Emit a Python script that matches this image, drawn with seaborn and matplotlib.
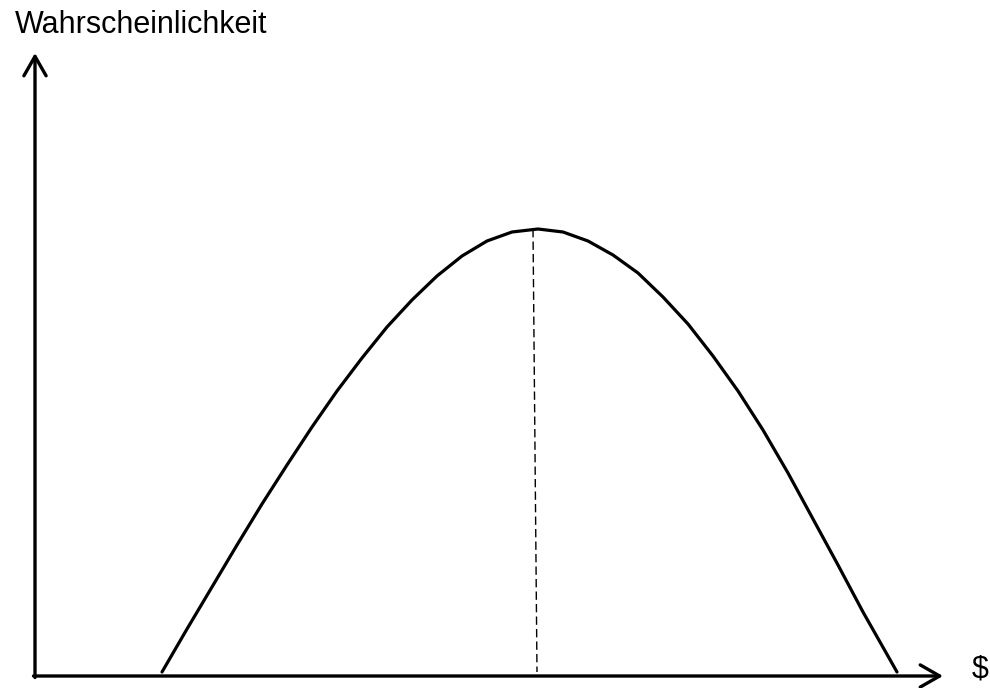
import numpy as np
import pandas as pd
import matplotlib
matplotlib.use("Agg")
import matplotlib.pyplot as plt
import seaborn as sns

# Curve (arbitrary units, origin at the axes corner)
betrag = [127, 152, 177, 202, 227, 252, 277, 302, 327, 352, 377, 402, 427, 452, 477,
          503,
          528, 553, 578, 603, 628, 653, 678, 703, 728, 753, 778, 803, 828, 862]
wahrscheinlichkeit = [4, 47, 89, 131, 172, 211, 249, 285, 318, 349, 376, 400, 420, 435, 444,
                      447,
                      444, 435, 421, 403, 379, 352, 320, 285, 246, 203, 157, 111, 64, 4]

# dashed marker line under the peak
peak_x = [498, 502]
peak_y = [447, 4]

# axis extents and labels
x_axis_end = 908
y_axis_end = 623
x_label = "$"
y_label = "Wahrscheinlichkeit"

sns.set_theme(style="white")
plt.rcParams["font.family"] = ["Liberation Sans", "DejaVu Sans"]

fig = plt.figure(figsize=(9.9, 6.88), dpi=100)
ax = fig.add_axes([0, 0, 1, 1])

df = pd.DataFrame({"x": betrag, "y": wahrscheinlichkeit})
sns.lineplot(data=df, x="x", y="y", ax=ax, color="black", linewidth=2.3,
             sort=False, estimator=None)
ax.plot(peak_x, peak_y, color="black", linewidth=1.0, linestyle=(0, (6, 3)))

arrow = dict(arrowstyle="->, head_length=0.7, head_width=0.4", color="black",
             lw=2.4, mutation_scale=20, shrinkA=0, shrinkB=0)
ax.annotate("", xy=(0, y_axis_end), xytext=(0, -1.5), arrowprops=arrow)
ax.annotate("", xy=(x_axis_end, 0), xytext=(-1.5, 0), arrowprops=arrow)

ax.text(-20, 643, y_label, fontsize=22, va="baseline", ha="left", color="black")
ax.text(937, 7, x_label, fontsize=22, va="center", ha="left", color="black")

ax.set_xlim(-35, 955)
ax.set_ylim(-12, 676)
ax.set_axis_off()

fig.savefig("out.png", dpi=100)
